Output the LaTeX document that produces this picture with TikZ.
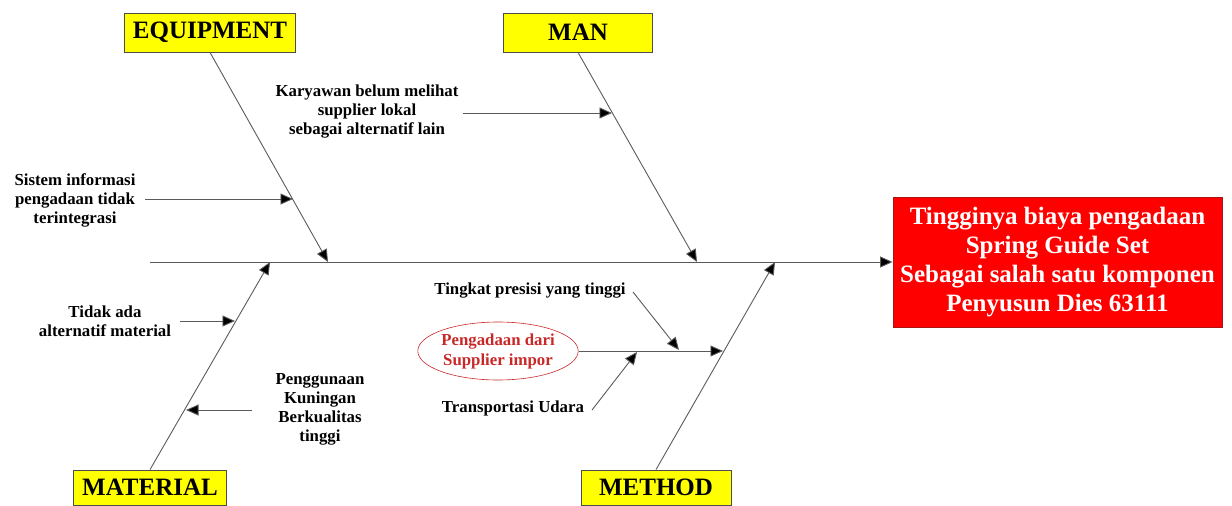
\documentclass[tikz,border=0pt]{standalone}
\usepackage{fontspec}
\setmainfont{Liberation Serif}
\usetikzlibrary{arrows.meta,shapes.geometric}
\definecolor{boxyellow}{RGB}{255,255,0}
\definecolor{boxred}{RGB}{255,0,0}
\definecolor{darkred}{RGB}{170,20,20}
\definecolor{linegray}{RGB}{90,90,90}
\definecolor{elred}{RGB}{200,40,40}
\tikzset{
  cat/.style={draw=black!70,fill=boxyellow,line width=0.8pt,font=\fontsize{25}{28}\selectfont\bfseries,inner sep=0pt},
  lbl/.style={font=\fontsize{16.8}{19}\selectfont\bfseries,align=center,inner sep=1pt},
  bone/.style={draw=linegray,line width=0.9pt,-{Triangle[length=12.5pt,width=11pt,fill=black]}},
  twig/.style={draw=linegray,line width=0.9pt,-{Triangle[length=12.5pt,width=11pt,fill=black]}},
}
\begin{document}
\begin{tikzpicture}[x=1pt,y=-1pt]
\useasboundingbox (0,0) rectangle (1232,506);
% category boxes
\node[cat,minimum width=171pt,minimum height=39pt] (equip) at (210,32.5) {EQUIPMENT};
\node[cat,minimum width=149pt,minimum height=39pt] (man) at (578,32.5) {MAN};
\node[cat,minimum width=153pt,minimum height=35pt] (mat) at (150,487.5) {MATERIAL};
\node[cat,minimum width=150pt,minimum height=35pt] (meth) at (656,487.5) {METHOD};
% effect box
\node[draw=darkred,fill=boxred,line width=0.8pt,minimum width=329pt,minimum height=130pt,
  text=white,font=\fontsize{25}{29}\selectfont\bfseries,align=center,inner sep=0pt] (eff) at (1057.5,262)
  {Tingginya biaya pengadaan\\Spring Guide Set\\Sebagai salah satu komponen\\Penyusun Dies 63111};
% spine
\coordinate (spL) at (150,262);
\draw[bone] (spL) -- (spL -| eff.west);
% bone end points on spine
\coordinate (eqS) at (328,262);
\coordinate (manS) at (697,262);
\coordinate (matS) at (270,262);
\coordinate (methS) at (775,262);
\draw[bone] (equip.south) -- (eqS);
\draw[bone] (man.south) -- (manS);
\draw[bone] (mat.north) -- (matS);
\draw[bone] (meth.north) -- (methS);
% cause labels
\node[lbl] (sis) at (75,200) {Sistem informasi\\pengadaan tidak\\terintegrasi};
\node[lbl] (kar) at (367,112) {Karyawan belum melihat\\supplier lokal\\sebagai alternatif lain};
\node[lbl] (tid) at (105,321) {Tidak ada\\alternatif material};
\node[lbl] (pen) at (320,409) {Penggunaan\\Kuningan\\Berkualitas\\tinggi};
\node[lbl] (tin) at (530,291) {Tingkat presisi yang tinggi};
\node[lbl] (tra) at (513,408) {Transportasi Udara};
\node[ellipse,draw=elred,line width=0.6pt,minimum width=160pt,minimum height=58pt,inner sep=0pt,
  text=elred,font=\fontsize{16.8}{20}\selectfont\bfseries,align=center] (peng) at (498,351)
  {Pengadaan dari\\Supplier impor};
% twig coordinates
\coordinate (sisA) at (145,199);
\coordinate (sisB) at (293,199);
\coordinate (karA) at (463,113);
\coordinate (karB) at (612,113);
\coordinate (tidA) at (180,321);
\coordinate (tidB) at (235,321);
\coordinate (penA) at (252,410);
\coordinate (penB) at (186,410);
\coordinate (methB) at (723,351);
\coordinate (tinA) at (633,292);
\coordinate (tinB) at (679,350);
\coordinate (traA) at (592,410);
\coordinate (traB) at (637,352);
\draw[twig] (sisA) -- (sisB);
\draw[twig] (karA) -- (karB);
\draw[twig] (tidA) -- (tidB);
\draw[twig] (penA) -- (penB);
\draw[twig] (peng.east) -- (methB);
\draw[twig] (tinA) -- (tinB);
\draw[twig] (traA) -- (traB);
\end{tikzpicture}
\end{document}
